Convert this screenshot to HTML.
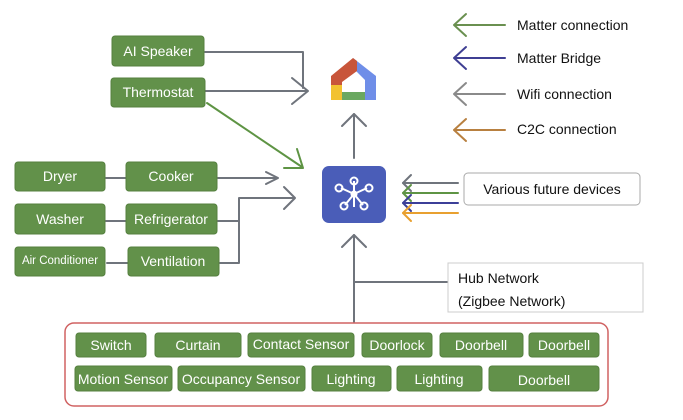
<!DOCTYPE html>
<html><head><meta charset="utf-8"><style>
html,body{margin:0;padding:0;background:#fff;}
svg{display:block;font-family:"Liberation Sans",sans-serif;}
.g{fill:#62914a;stroke:#55803f;stroke-width:1;}
.t{fill:#fff;font-size:14px;text-anchor:middle;dominant-baseline:central;}
.l{fill:none;stroke-width:2;stroke-linecap:round;stroke-linejoin:round;}
.k{font-size:14px;fill:#111;dominant-baseline:central;}
</style></head><body>
<svg width="683" height="420" viewBox="0 0 683 420">
<rect width="683" height="420" fill="#fff"/>
<g class="l" stroke="#6f747c">
<polyline points="205,52 303,52 303,88"/>
<line x1="205" y1="91" x2="307" y2="91"/>
<polyline points="292,78 308,91 292,104"/>
<line x1="106" y1="178" x2="126" y2="178"/>
<line x1="218" y1="178" x2="277" y2="178"/>
<polyline points="266,172 278,178 266,184"/>
<line x1="106" y1="221" x2="126" y2="221"/>
<line x1="107" y1="263" x2="128" y2="263"/>
<polyline points="218,221 239,221"/>
<polyline points="220,263 239,263 239,198 294,198"/>
<polyline points="284,187 295,198 284,209"/>
<line x1="354" y1="158" x2="354" y2="114"/>
<polyline points="342,126 354,114 366,126"/>
<line x1="354" y1="322" x2="354" y2="235"/>
<polyline points="342,247 354,235 366,247"/>
<line x1="354" y1="282" x2="448" y2="282"/>
</g>
<g class="l" stroke="#5e9444">
<line x1="207" y1="103" x2="302" y2="167"/>
<polyline points="297,149 303,168 284,168"/>
</g>
<g class="l">
<line x1="458" y1="183" x2="403" y2="183" stroke="#6f747c"/><polyline points="411,175 403,183 411,191" stroke="#6f747c"/>
<line x1="458" y1="193" x2="403" y2="193" stroke="#5e9444"/><polyline points="411,185 403,193 411,201" stroke="#5e9444"/>
<line x1="458" y1="203" x2="403" y2="203" stroke="#3c3f98"/><polyline points="411,195 403,203 411,211" stroke="#3c3f98"/>
<line x1="458" y1="213" x2="403" y2="213" stroke="#e8a030"/><polyline points="411,205 403,213 411,221" stroke="#e8a030"/>
</g>
<rect x="464" y="173" width="176" height="32" rx="4" fill="#fff" stroke="#aaa"/>
<text x="552" y="189" class="k" text-anchor="middle">Various future devices</text>
<g class="l" stroke-width="3">
<line x1="505" y1="25" x2="455" y2="25" stroke="#6a9050"/><polyline points="466,14 454,25 466,36" stroke="#6a9050"/>
<line x1="505" y1="58" x2="455" y2="58" stroke="#3f3f93"/><polyline points="466,47 454,58 466,69" stroke="#3f3f93"/>
<line x1="505" y1="94" x2="455" y2="94" stroke="#8a8a8a"/><polyline points="466,83 454,94 466,105" stroke="#8a8a8a"/>
<line x1="505" y1="130" x2="455" y2="130" stroke="#b88040"/><polyline points="466,119 454,130 466,141" stroke="#b88040"/>
</g>
<text x="517" y="25" class="k">Matter connection</text>
<text x="517" y="58" class="k">Matter Bridge</text>
<text x="517" y="94" class="k">Wifi connection</text>
<text x="517" y="129" class="k">C2C connection</text>
<!-- google home icon -->
<g>
<rect x="331" y="85" width="11" height="15" fill="#f2c230"/>
<rect x="342" y="92" width="23" height="8" fill="#6aa860"/>
<rect x="365" y="76" width="11" height="24" fill="#6f8ee8"/>
<polygon points="353,58 376,76 376,80 365,80 353,68" fill="#6f8ee8"/>
<polygon points="331,76 353,58 357,61 357,71 342,82 342,85 331,85" fill="#c8553a"/>
</g>
<rect x="322" y="166" width="64" height="57" rx="7" fill="#4a5db8"/>
<g stroke="#fff" stroke-width="2" fill="none">
<line x1="354" y1="194" x2="354" y2="181"/><line x1="354" y1="194" x2="354" y2="207"/>
<line x1="354" y1="194" x2="341" y2="188"/><line x1="354" y1="194" x2="367" y2="188"/>
<line x1="354" y1="194" x2="345" y2="205"/><line x1="354" y1="194" x2="363" y2="205"/>
<circle cx="354" cy="181" r="3.5"/><circle cx="339" cy="188" r="3.5"/><circle cx="369" cy="188" r="3.5"/>
<circle cx="344" cy="206" r="3.5"/><circle cx="364" cy="206" r="3.5"/>
</g>
<circle cx="354" cy="194" r="3.5" fill="#fff"/>
<rect class="g" x="112" y="36" width="92" height="30" rx="3"/><text class="t" x="158" y="51">AI Speaker</text>
<rect class="g" x="111" y="78" width="94" height="29" rx="3"/><text class="t" x="158" y="92">Thermostat</text>
<rect class="g" x="15" y="162" width="90" height="29" rx="3"/><text class="t" x="60" y="176">Dryer</text>
<rect class="g" x="126" y="162" width="91" height="29" rx="3"/><text class="t" x="171" y="176">Cooker</text>
<rect class="g" x="15" y="204" width="90" height="30" rx="3"/><text class="t" x="60" y="219">Washer</text>
<rect class="g" x="126" y="204" width="91" height="30" rx="3"/><text class="t" x="171" y="219">Refrigerator</text>
<rect class="g" x="15" y="247" width="90" height="29" rx="3"/><text class="t" x="60" y="261" style="font-size:11.5px">Air Conditioner</text>
<rect class="g" x="128" y="247" width="91" height="29" rx="3"/><text class="t" x="173" y="261">Ventilation</text>
<rect x="448" y="263" width="195" height="49" fill="#fff" stroke="#ccc"/>
<text x="458" y="278" class="k">Hub Network</text>
<text x="458" y="301" class="k">(Zigbee Network)</text>
<rect x="65" y="323" width="543" height="83" rx="9" fill="#fff" stroke="#d06262" stroke-width="1.5"/>
<rect class="g" x="76" y="333" width="70" height="24" rx="3"/><text class="t" x="111" y="345">Switch</text>
<rect class="g" x="155" y="333" width="86" height="24" rx="3"/><text class="t" x="198" y="345">Curtain</text>
<rect class="g" x="248" y="333" width="106" height="24" rx="3"/><text class="t" x="301" y="344">Contact Sensor</text>
<rect class="g" x="362" y="333" width="70" height="24" rx="3"/><text class="t" x="397" y="345">Doorlock</text>
<rect class="g" x="440" y="333" width="83" height="24" rx="3"/><text class="t" x="481" y="345">Doorbell</text>
<rect class="g" x="529" y="333" width="70" height="24" rx="3"/><text class="t" x="564" y="345">Doorbell</text>
<rect class="g" x="75" y="366" width="97" height="25" rx="3"/><text class="t" x="123" y="379">Motion Sensor</text>
<rect class="g" x="178" y="366" width="127" height="25" rx="3"/><text class="t" x="241" y="379">Occupancy Sensor</text>
<rect class="g" x="312" y="366" width="79" height="25" rx="3"/><text class="t" x="351" y="379">Lighting</text>
<rect class="g" x="397" y="366" width="85" height="25" rx="3"/><text class="t" x="439" y="379">Lighting</text>
<rect class="g" x="489" y="366" width="110" height="25" rx="3"/><text class="t" x="544" y="380">Doorbell</text>
</svg>
</body></html>
